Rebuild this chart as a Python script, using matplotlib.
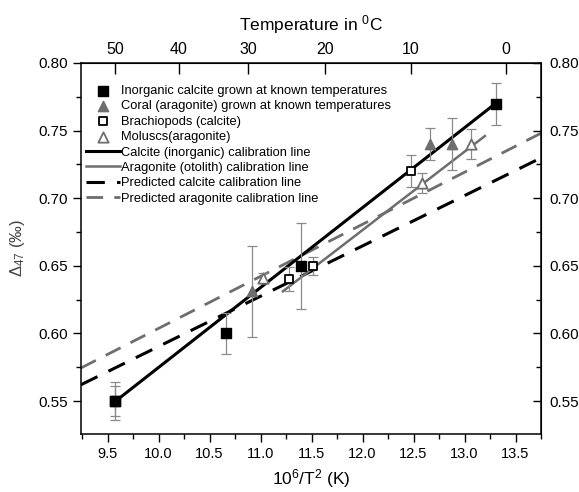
import numpy as np
import matplotlib
matplotlib.use("Agg")
import matplotlib.pyplot as plt
from matplotlib.ticker import MultipleLocator, FixedLocator, FormatStrFormatter

plt.rcParams['font.family'] = ['Liberation Sans', 'DejaVu Sans']
plt.rcParams['mathtext.fontset'] = 'custom'
plt.rcParams['mathtext.rm'] = 'Liberation Sans'
plt.rcParams['mathtext.it'] = 'Liberation Sans:italic'
plt.rcParams['mathtext.default'] = 'regular'

# ---- data ----
calc_x = [9.57, 9.57, 10.66, 11.395, 13.31]
calc_y = [0.550, 0.550, 0.600, 0.650, 0.770]
calc_e = [0.011, 0.014, 0.015, 0.032, 0.0155]

coral_x = [10.92, 12.66, 12.875]
coral_y = [0.631, 0.740, 0.740]
coral_e = [0.034, 0.012, 0.019]

brach_x = [11.28, 11.515, 12.48]
brach_y = [0.640, 0.650, 0.720]
brach_e = [0.009, 0.0065, 0.012]

mol_x = [11.02, 12.58, 13.06]
mol_y = [0.641, 0.711, 0.740]
mol_e = [0.004, 0.0075, 0.011]

# calibration lines: slope, intercept, x-range
calc_line = dict(slope=0.0591, icpt=-0.0162, x=[9.57, 13.31])
arag_line = dict(slope=0.058, icpt=-0.0196, x=[11.22, 13.2])
pred_calc = dict(slope=0.0372, icpt=0.2183, x=[9.24, 13.75])
pred_arag = dict(slope=0.0385, icpt=0.2187, x=[9.24, 13.75])

top_temps = [50, 40, 30, 20, 10, 0]

gray = '#6e6e6e'
ebar_c = '#8a8a8a'

fig = plt.figure(figsize=(5.79, 4.92), dpi=100)
ax = fig.add_axes([81/579, 1-434/492, (541-81)/579, (434-63)/492])

def line_pts(d):
    xs = np.array(d['x'])
    return xs, d['slope']*xs + d['icpt']

xs, ys = line_pts(calc_line)
ax.plot(xs, ys, color='black', lw=2.2, label='Calcite (inorganic) calibration line', zorder=3)
xs, ys = line_pts(arag_line)
ax.plot(xs, ys, color=gray, lw=1.8, label='Aragonite (otolith) calibration line', zorder=3)
xs, ys = line_pts(pred_calc)
ax.plot(xs, ys, color='black', lw=2.2, dashes=(6, 4), label='Predicted calcite calibration line', zorder=2)
xs, ys = line_pts(pred_arag)
ax.plot(xs, ys, color=gray, lw=2.0, dashes=(6, 4), label='Predicted aragonite calibration line', zorder=2)

ekw = dict(fmt='none', ecolor=ebar_c, elinewidth=0.9, capsize=3.5, capthick=0.9, zorder=4)
ax.errorbar(calc_x, calc_y, yerr=calc_e, **ekw)
ax.errorbar(coral_x, coral_y, yerr=coral_e, **ekw)
ax.errorbar(brach_x, brach_y, yerr=brach_e, **ekw)
ax.errorbar(mol_x, mol_y, yerr=mol_e, **ekw)

ax.scatter(calc_x, calc_y, marker='s', s=42, color='black', zorder=5,
           label='Inorganic calcite grown at known temperatures')
ax.scatter(coral_x, coral_y, marker='^', s=55, color=gray, zorder=5,
           label='Coral (aragonite) grown at known temperatures')
ax.scatter(brach_x, brach_y, marker='s', s=38, facecolor='white', edgecolor='black',
           linewidth=1.3, zorder=5, label='Brachiopods (calcite)')
ax.scatter(mol_x, mol_y, marker='^', s=55, facecolor='white', edgecolor=gray,
           linewidth=1.3, zorder=5, label='Moluscs(aragonite)')

ax.set_xlim(9.24, 13.75)
ax.set_ylim(0.5256, 0.80)
ax.xaxis.set_major_locator(MultipleLocator(0.5))
ax.xaxis.set_minor_locator(MultipleLocator(0.25))
ax.yaxis.set_major_locator(MultipleLocator(0.05))
ax.yaxis.set_minor_locator(MultipleLocator(0.025))
ax.xaxis.set_major_formatter(FormatStrFormatter('%.1f'))
ax.yaxis.set_major_formatter(FormatStrFormatter('%.2f'))

ax.tick_params(axis='x', which='major', direction='out', length=6, width=1, labelsize=10.5, top=False)
ax.tick_params(axis='x', which='minor', direction='out', length=3.5, width=1, top=False)
ax.tick_params(axis='y', which='major', direction='out', length=6, width=1, labelsize=11, right=False)
ax.tick_params(axis='y', which='minor', direction='out', length=3.5, width=1, right=False)
for s in ax.spines.values():
    s.set_linewidth(1.1)

# right axis (mirror)
rax = ax.secondary_yaxis('right', functions=(lambda y: y, lambda y: y))
rax.yaxis.set_major_locator(MultipleLocator(0.05))
rax.yaxis.set_minor_locator(MultipleLocator(0.025))
rax.yaxis.set_major_formatter(FormatStrFormatter('%.2f'))
rax.tick_params(which='major', direction='in', length=6, width=1, labelsize=11, pad=6)
rax.tick_params(which='minor', direction='in', length=3.5, width=1)

# top temperature axis
sec = ax.secondary_xaxis('top', functions=(lambda x: x, lambda x: x))
sec.xaxis.set_major_locator(FixedLocator([1e6/(t+273.15)**2 for t in top_temps]))
sec.set_xticklabels([str(t) for t in top_temps])
sec.tick_params(direction='in', length=8, width=1, labelsize=11.5, pad=4)
sec.set_xlabel('Temperature in $^{0}$C', fontsize=12.5, labelpad=9)

ax.set_xlabel('10$^{6}$/T$^{2}$ (K)', fontsize=12.5, labelpad=4)
ax.set_ylabel('$\\Delta_{47}$ (‰)', fontsize=12, color='#444444', labelpad=8)

handles, labels = ax.get_legend_handles_labels()
order = [4, 5, 6, 7, 0, 1, 2, 3]
leg = ax.legend([handles[i] for i in order], [labels[i] for i in order],
                loc='upper left', frameon=False, fontsize=9.3, handlelength=2.6,
                handletextpad=0.1, labelspacing=0.26, borderaxespad=0.0,
                bbox_to_anchor=(0.0, 0.955))

fig.savefig('out.png', dpi=100)
